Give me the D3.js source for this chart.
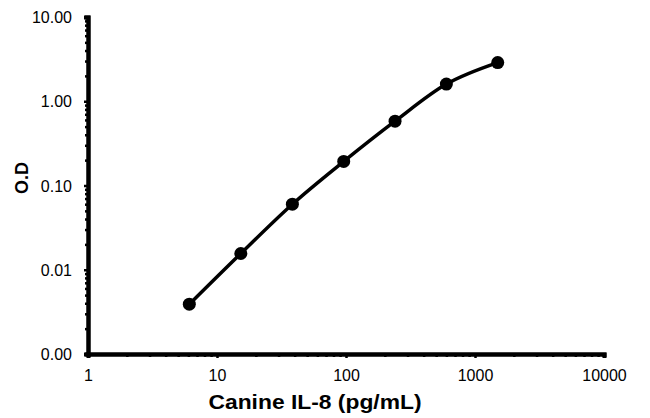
<!DOCTYPE html>
<html><head><meta charset="utf-8">
<script src="https://cdn.jsdelivr.net/npm/d3@7"></script>
<style>body{margin:0;background:#fff}svg{display:block}</style>
</head><body>
<svg id="c" width="650" height="418"></svg>
<script>
const concentrations = [6.1, 15.3, 38.4, 96, 240, 600, 1500];
const odValues = [0.0039, 0.0156, 0.060, 0.193, 0.58, 1.6, 2.88];
const xTickValues = [1, 10, 100, 1000, 10000];
const xTickLabels = ["1", "10", "100", "1000", "10000"];
const yTickValues = [0.001, 0.01, 0.1, 1, 10];
const yTickLabels = ["0.00", "0.01", "0.10", "1.00", "10.00"];
const xTitle = "Canine IL-8 (pg/mL)";
const yTitle = "O.D";

const svg = d3.select("#c");
const font = "'Liberation Sans', Arial, sans-serif";
const x = d3.scaleLog().domain([1, 10000]).range([88, 604]);
const y = d3.scaleLog().domain([0.001, 10]).range([354, 17]);

function minors(domain){
  const out=[];
  for(let d=domain[0]; d<domain[1]; d*=10){
    for(let k=2;k<=9;k++) out.push(d*k);
  }
  return out;
}

// minor ticks
const gxm = svg.append("g").attr("transform","translate(0,354)")
  .call(d3.axisBottom(x).tickValues(minors([1,10000])).tickSize(3).tickFormat(""));
const gym = svg.append("g").attr("transform","translate(88,0)")
  .call(d3.axisLeft(y).tickValues(minors([0.001,10])).tickSize(3).tickFormat(""));
// major ticks
const gx = svg.append("g").attr("transform","translate(0,354)")
  .call(d3.axisBottom(x).tickValues(xTickValues).tickSize(4).tickPadding(12)
    .tickFormat((d,i)=>xTickLabels[i]));
const gy = svg.append("g").attr("transform","translate(88,0)")
  .call(d3.axisLeft(y).tickValues(yTickValues).tickSize(4).tickPadding(12)
    .tickFormat((d,i)=>yTickLabels[i]));

[gxm,gym,gx,gy].forEach(g=>{
  g.selectAll(".domain").attr("stroke","#000").attr("stroke-width",4);
  g.selectAll(".tick line").attr("stroke","#000").attr("stroke-width",2.5);
  g.selectAll("text").attr("font-family",font).attr("font-size",16).attr("fill","#000");
});
gy.selectAll("text").attr("dy","0.35em");

// line
const pts = concentrations.map((c,i)=>[c, odValues[i]]);
svg.append("path").datum(pts)
  .attr("fill","none").attr("stroke","#000").attr("stroke-width",3.5)
  .attr("d", d3.line().x(d=>x(d[0])).y(d=>y(d[1])).curve(d3.curveMonotoneX));
svg.append("g").selectAll("circle").data(pts).join("circle")
  .attr("cx",d=>x(d[0])).attr("cy",d=>y(d[1])).attr("r",6.5).attr("fill","#000");

// titles
svg.append("text").attr("x",315).attr("y",409).attr("text-anchor","middle")
  .attr("font-family",font).attr("font-weight","bold").attr("font-size",20)
  .attr("textLength",213).attr("lengthAdjust","spacingAndGlyphs").text(xTitle);
svg.append("text").attr("transform","translate(28,178) rotate(-90)").attr("text-anchor","middle")
  .attr("font-family",font).attr("font-weight","bold").attr("font-size",18).text(yTitle);
</script>
</body></html>
